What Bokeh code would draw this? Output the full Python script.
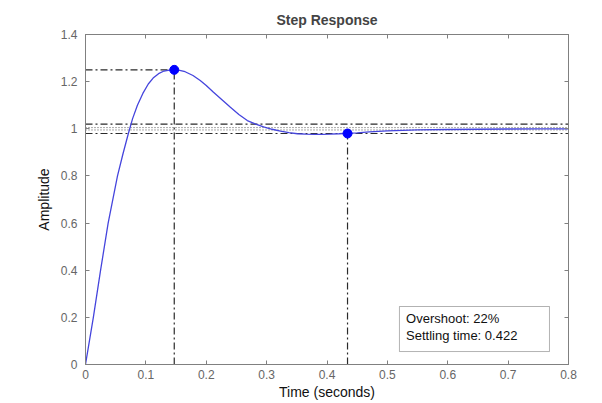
from bokeh.plotting import figure
from bokeh.models import LinearAxis, Label, BoxAnnotation, Range1d, FixedTicker
from bokeh.embed import file_html
from bokeh.resources import INLINE

# ---- data ----
time_s = [0, 0.013, 0.025, 0.0375, 0.053, 0.062, 0.071, 0.078, 0.086, 0.095, 0.104,
          0.112, 0.121, 0.13, 0.139, 0.147, 0.156, 0.165, 0.178, 0.19, 0.2, 0.212,
          0.226, 0.24, 0.254, 0.268, 0.282, 0.295, 0.309, 0.323, 0.337, 0.351, 0.365,
          0.378, 0.392, 0.405, 0.42, 0.434, 0.45, 0.47, 0.5, 0.55, 0.6, 0.65, 0.7, 0.75, 0.8]
amplitude = [0, 0.2, 0.4, 0.6, 0.8, 0.893, 0.98, 1.043, 1.1, 1.15, 1.19,
             1.215, 1.234, 1.245, 1.249, 1.25, 1.248, 1.242, 1.226, 1.205, 1.184, 1.155,
             1.123, 1.091, 1.061, 1.035, 1.02, 1.008, 0.998, 0.99, 0.984, 0.979, 0.977,
             0.976, 0.976, 0.977, 0.979, 0.981, 0.983, 0.987, 0.991, 0.995, 0.997, 0.998, 0.999, 1.0, 1.0]

peak_t, peak_y = 0.147, 1.25
settle_t, settle_y = 0.434, 0.98
band_outer = [1.02, 0.98]
band_inner = [1.005, 0.995]

x_ticks = [0, 0.1, 0.2, 0.3, 0.4, 0.5, 0.6, 0.7, 0.8]
x_labels = ["0", "0.1", "0.2", "0.3", "0.4", "0.5", "0.6", "0.7", "0.8"]
y_ticks = [0, 0.2, 0.4, 0.6, 0.8, 1.0, 1.2, 1.4]
y_labels = ["0", "0.2", "0.4", "0.6", "0.8", "1", "1.2", "1.4"]

title_text = "Step Response"
x_title = "Time (seconds)"
y_title = "Amplitude"
note_lines = ["Overshoot: 22%", "Settling time: 0.422"]

FONT = "Liberation Sans"
GREY = "#808080"
TICKC = "#666666"
REF = "#2a2a2a"

p = figure(width=602, height=403, output_backend="svg", toolbar_location=None,
           x_range=Range1d(0, 0.8), y_range=Range1d(0, 1.4),
           min_border_left=85, min_border_right=34, min_border_top=34, min_border_bottom=39,
           title=title_text)
p.title.text_font = FONT
p.title.text_font_size = "14px"
p.title.text_font_style = "bold"
p.title.align = "center"
p.title.standoff = 13
p.title.offset = 0

p.grid.visible = False
p.outline_line_color = GREY
p.outline_line_width = 1
p.background_fill_color = "white"
p.border_fill_color = "white"

def style_axis(ax, ticks, labels, show_labels=True):
    ax.ticker = FixedTicker(ticks=ticks)
    ax.major_tick_in = 4
    ax.major_tick_out = 0
    ax.minor_tick_line_color = None
    ax.major_tick_line_color = GREY
    ax.axis_line_color = GREY
    if show_labels:
        ax.major_label_overrides = {t: l for t, l in zip(ticks, labels)}
        ax.major_label_text_font = FONT
        ax.major_label_text_font_size = "12px"
        ax.major_label_text_color = TICKC
    else:
        ax.major_label_text_color = None
        ax.major_label_standoff = 0
    ax.axis_label_text_font = FONT
    ax.axis_label_text_font_size = "14px"
    ax.axis_label_text_font_style = "normal"
    ax.axis_label_text_color = "#111111"

style_axis(p.xaxis[0], x_ticks, x_labels)
style_axis(p.yaxis[0], y_ticks, y_labels)
p.xaxis[0].axis_label = x_title
p.yaxis[0].axis_label = y_title
p.xaxis[0].major_label_standoff = 5
p.xaxis[0].axis_label_standoff = 2
p.yaxis[0].major_label_standoff = 8
p.yaxis[0].axis_label_standoff = 6

top_ax = LinearAxis()
style_axis(top_ax, x_ticks, x_labels, show_labels=False)
p.add_layout(top_ax, "above")
right_ax = LinearAxis()
style_axis(right_ax, y_ticks, y_labels, show_labels=False)
p.add_layout(right_ax, "right")

dash = "7 3 2 3"
# settling band lines
for v in band_outer:
    p.line([x_ticks[0], x_ticks[-1]], [v, v], line_color=REF, line_dash=dash, line_width=1.2)
for v in band_inner:
    p.line([x_ticks[0], x_ticks[-1]], [v, v], line_color="#555555", line_dash="1 2", line_width=1)
# peak reference lines
p.line([x_ticks[0], peak_t], [peak_y, peak_y], line_color=REF, line_dash=dash, line_width=1.2)
p.line([peak_t, peak_t], [0, peak_y], line_color=REF, line_dash=dash, line_width=1.2)
p.line([settle_t, settle_t], [0, settle_y], line_color=REF, line_dash=dash, line_width=1.2)

# response curve
p.line(time_s, amplitude, line_color="#4545dd", line_width=1.3)
p.scatter([peak_t, settle_t], [peak_y, settle_y], size=9, fill_color="#0000ff",
          line_color="#0000ff")

# annotation box
box = BoxAnnotation(left=0.52, right=0.7685, bottom=0.055, top=0.246,
                    fill_color="white", fill_alpha=1.0, line_color="black", line_width=1)
p.add_layout(box)
p.add_layout(Label(x=0.531, y=0.195, text=note_lines[0], text_baseline="middle",
                   text_font=FONT, text_font_size="13px", text_color="#111111"))
p.add_layout(Label(x=0.531, y=0.122, text=note_lines[1], text_baseline="middle",
                   text_font=FONT, text_font_size="13px", text_color="#111111"))

open("out.html", "w").write(file_html(p, INLINE))
